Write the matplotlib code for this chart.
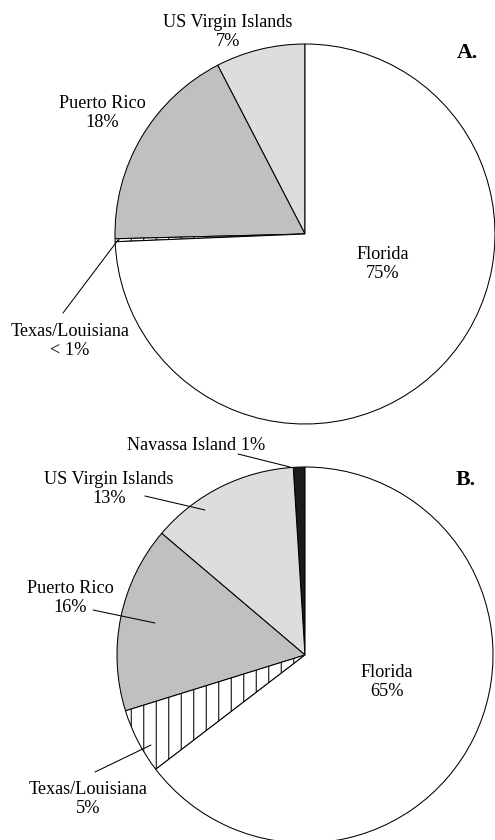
import matplotlib
matplotlib.use("Agg")
import matplotlib.pyplot as plt

# ---------------------------------------------------------------------------
# Data (shares, counter-clockwise from 12 o'clock)
# ---------------------------------------------------------------------------

labels_a = ["US Virgin Islands", "Puerto Rico", "Texas/Louisiana", "Florida"]
values_a = [7.6, 17.8, 0.25, 74.35]
texts_a = ["US Virgin Islands\n7%", "Puerto Rico\n18%", "Texas/Louisiana\n< 1%", "Florida\n75%"]

labels_b = ["Navassa Island", "US Virgin Islands", "Puerto Rico", "Texas/Louisiana", "Florida"]
values_b = [1.0, 12.8, 16.0, 5.6, 64.6]
texts_b = ["Navassa Island 1%", "US Virgin Islands\n13%", "Puerto Rico\n16%",
           "Texas/Louisiana\n5%", "Florida\n65%"]

COLORS = {
    "Navassa Island": "#1a1a1a",
    "US Virgin Islands": "#dddddd",
    "Puerto Rico": "#c0c0c0",
    "Texas/Louisiana": "white",
    "Florida": "white",
}

W, H = 495, 840


def px(x, y):
    """pixel position (top-left origin) -> axes data coords"""
    return x, H - y


fig = plt.figure(figsize=(W / 75, H / 75), dpi=75)
ax = fig.add_axes([0, 0, 1, 1])
plt.rcParams["font.family"] = ["Liberation Serif", "DejaVu Serif"]
plt.rcParams["hatch.linewidth"] = 1.0

FS = 17.5


def draw_pie(values, labels, center, radius):
    wedges, _ = ax.pie(values, colors=[COLORS[l] for l in labels], startangle=90,
                       counterclock=True, center=center, radius=radius,
                       wedgeprops=dict(edgecolor="black", linewidth=1.0))
    for w, l in zip(wedges, labels):
        if l == "Texas/Louisiana":
            w.set_hatch("|")
    return wedges


draw_pie(values_a, labels_a, px(305, 234), 190)
draw_pie(values_b, labels_b, px(305, 655), 188)

# label layout: (text center, leader start, leader end) in pixels
layout_a = [((228, 32), None, None),
            ((102, 113), None, None),
            ((70, 341), (63, 313), (118, 240)),
            ((383, 264), None, None)]
layout_b = [((196, 446), (238, 454), (290, 467)),
            ((109, 489), (145, 496), (205, 510)),
            ((70, 598), (93, 610), (155, 623)),
            ((88, 799), (95, 772), (151, 745)),
            ((387, 682), None, None)]

for texts, layout in [(texts_a, layout_a), (texts_b, layout_b)]:
    for t, (pos, p0, p1) in zip(texts, layout):
        ax.text(*px(*pos), t, ha="center", va="center", fontsize=FS, linespacing=1.15)
        if p0 is not None:
            ax.annotate("", xy=px(*p1), xytext=px(*p0),
                        arrowprops=dict(arrowstyle="-", lw=1.0, color="black",
                                        shrinkA=0, shrinkB=0))

ax.text(*px(478, 53), "A.", ha="right", va="center", fontsize=21, fontweight="bold")
ax.text(*px(476, 480), "B.", ha="right", va="center", fontsize=21, fontweight="bold")

ax.set_xlim(0, W)
ax.set_ylim(0, H)
ax.set_aspect("equal")
ax.axis("off")

fig.savefig("out.png", dpi=75, facecolor="white")
